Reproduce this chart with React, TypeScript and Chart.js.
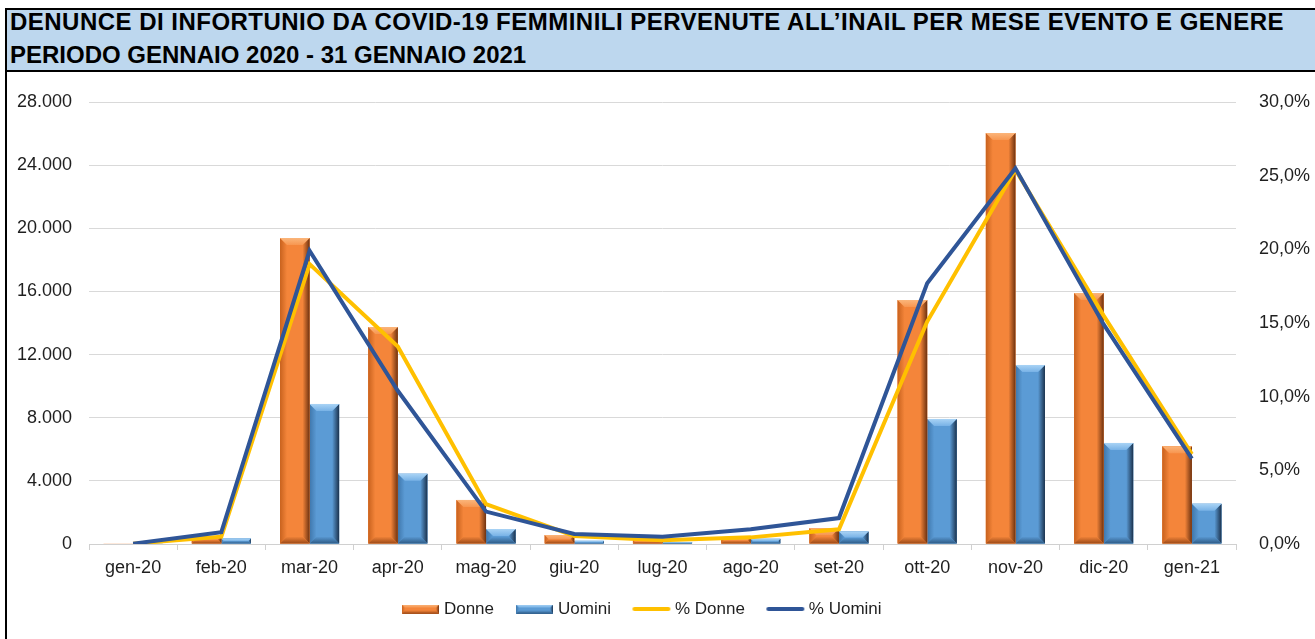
import React, { useEffect, useRef } from 'react';
import { Chart, registerables } from 'chart.js';

Chart.register(...registerables);

const titleLines = [
  'DENUNCE DI INFORTUNIO DA COVID-19 FEMMINILI PERVENUTE ALL\u2019INAIL PER MESE EVENTO E GENERE',
  'PERIODO GENNAIO 2020 - 31 GENNAIO 2021',
];
const months = ['gen-20', 'feb-20', 'mar-20', 'apr-20', 'mag-20', 'giu-20', 'lug-20', 'ago-20', 'set-20', 'ott-20', 'nov-20', 'dic-20', 'gen-21'];
const donne = [20, 500, 19380, 13740, 2790, 570, 300, 440, 1000, 15450, 26030, 15900, 6200];
const uomini = [10, 350, 8870, 4450, 950, 200, 120, 330, 790, 7920, 11340, 6400, 2550];
const pctDonne = [0.02, 0.5, 19.0, 13.4, 2.7, 0.55, 0.25, 0.45, 1.0, 15.1, 25.4, 15.5, 6.1];
const pctUomini = [0.02, 0.8, 19.9, 10.4, 2.2, 0.68, 0.5, 1.0, 1.76, 17.7, 25.5, 14.9, 5.8];
const seriesNames = ['Donne', 'Uomini', '% Donne', '% Uomini'];
const leftMax = 28000;
const leftStep = 4000;
const rightMax = 30;
const rightStep = 5;

const FONT = '"Liberation Sans", Arial, sans-serif';
const TEXT = '#1f1f1f';
const X_AXIS_H = 40;
const LEGEND_H = 55;
const LEGEND_DX = -14;
const LEGEND_DY = -9;

type Pal = { face: string; light: string; lightEnd: string; leftEdge: string; dark: string; bottom: string };
const orangePal: Pal = { face: '#F4853A', light: '#FBB57A', lightEnd: '#F79650', leftEdge: '#C8621E', dark: '#6E3210', bottom: '#9C4A18' };
const bluePal: Pal = { face: '#5B9BD5', light: '#A9D3F5', lightEnd: '#78B2E6', leftEdge: '#3F77AC', dark: '#1B324D', bottom: '#2E5B86' };

function poly(ctx: CanvasRenderingContext2D, pts: number[][], fill: string | CanvasGradient) {
  ctx.beginPath();
  ctx.moveTo(pts[0][0], pts[0][1]);
  for (let i = 1; i < pts.length; i++) ctx.lineTo(pts[i][0], pts[i][1]);
  ctx.closePath();
  ctx.fillStyle = fill;
  ctx.fill();
}

function drawBevel(ctx: CanvasRenderingContext2D, l: number, t: number, w: number, h: number, pal: Pal, bev: number) {
  if (h <= 0.5 || w <= 0) return;
  const b = Math.min(bev, w / 2, h / 2);
  const r = l + w;
  const bot = t + h;
  ctx.fillStyle = pal.face;
  ctx.fillRect(l, t, w, h);
  let g = ctx.createLinearGradient(l, 0, l + b, 0);
  g.addColorStop(0, pal.leftEdge);
  g.addColorStop(1, pal.face);
  poly(ctx, [[l, t], [l + b, t + b], [l + b, bot - b], [l, bot]], g);
  g = ctx.createLinearGradient(r - b, 0, r, 0);
  g.addColorStop(0, pal.face);
  g.addColorStop(1, pal.dark);
  poly(ctx, [[r, t], [r - b, t + b], [r - b, bot - b], [r, bot]], g);
  g = ctx.createLinearGradient(0, bot - b, 0, bot);
  g.addColorStop(0, pal.face);
  g.addColorStop(1, pal.bottom);
  poly(ctx, [[l, bot], [r, bot], [r - b, bot - b], [l + b, bot - b]], g);
  g = ctx.createLinearGradient(0, t, 0, t + b);
  g.addColorStop(0, pal.light);
  g.addColorStop(1, pal.lightEnd);
  poly(ctx, [[l, t], [r, t], [r - b, t + b], [l + b, t + b]], g);
}

function barSymbol(pal: Pal) {
  const c = document.createElement('canvas');
  c.width = 37;
  c.height = 9;
  const ctx = c.getContext('2d')!;
  drawBevel(ctx, 0, 0, 37, 9, pal, 3);
  return c;
}

function lineSymbol(color: string) {
  const c = document.createElement('canvas');
  c.width = 40;
  c.height = 6;
  const ctx = c.getContext('2d')!;
  ctx.strokeStyle = color;
  ctx.lineWidth = 4;
  ctx.lineCap = 'round';
  ctx.beginPath();
  ctx.moveTo(3, 3);
  ctx.lineTo(37, 3);
  ctx.stroke();
  return c;
}

const bevelPlugin = {
  id: 'bevelBars',
  afterDatasetDraw(chart: any, args: any) {
    const meta = args.meta;
    if (meta.type !== 'bar') return;
    const pal: Pal = args.index === 0 ? orangePal : bluePal;
    const ctx: CanvasRenderingContext2D = chart.ctx;
    const area = chart.chartArea;
    ctx.save();
    ctx.beginPath();
    ctx.rect(area.left, area.top, area.right - area.left, area.bottom - area.top);
    ctx.clip();
    meta.data.forEach((el: any) => {
      const p = el.getProps(['x', 'y', 'base', 'width'], true);
      drawBevel(ctx, p.x - p.width / 2, p.y, p.width, p.base - p.y, pal, 7);
    });
    ctx.restore();
  },
};

const legendPlacePlugin = {
  id: 'legendPlace',
  beforeLayout(chart: any) {
    const lg = chart.legend;
    if (lg && !lg.__patched) {
      const orig = lg.fit;
      lg.fit = function () {
        orig.call(this);
        this.height = LEGEND_H;
      };
      lg.__patched = true;
    }
  },
  afterLayout(chart: any) {
    const lg = chart.legend;
    if (lg) {
      lg.left += LEGEND_DX;
      lg.right += LEGEND_DX;
      lg.top += LEGEND_DY;
      lg.bottom += LEGEND_DY;
    }
  },
};

const fmtThousands = (v: number) => String(Math.round(v)).replace(/\B(?=(\d{3})+(?!\d))/g, '.');
const fmtPct = (v: number) => v.toFixed(1).replace('.', ',') + '%';

export default function App() {
  const ref = useRef<HTMLCanvasElement | null>(null);

  useEffect(() => {
    if (!ref.current) return;
    const symbols = [barSymbol(orangePal), barSymbol(bluePal), lineSymbol('#FFC000'), lineSymbol('#2F5597')];
    const chart = new Chart(ref.current, {
      type: 'bar',
      data: {
        labels: months,
        datasets: [
          { type: 'bar', label: seriesNames[0], data: donne, backgroundColor: orangePal.face, yAxisID: 'y', order: 2, barPercentage: 1, categoryPercentage: 0.67 },
          { type: 'bar', label: seriesNames[1], data: uomini, backgroundColor: bluePal.face, yAxisID: 'y', order: 3, barPercentage: 1, categoryPercentage: 0.67 },
          { type: 'line', label: seriesNames[2], data: pctDonne, borderColor: '#FFC000', backgroundColor: '#FFC000', borderWidth: 4, pointRadius: 0, yAxisID: 'y1', order: 1, tension: 0 },
          { type: 'line', label: seriesNames[3], data: pctUomini, borderColor: '#2F5597', backgroundColor: '#2F5597', borderWidth: 4, pointRadius: 0, yAxisID: 'y1', order: 0, tension: 0 },
        ] as any,
      },
      options: {
        animation: false,
        responsive: false,
        maintainAspectRatio: false,
        layout: { padding: { top: 102, bottom: 0, left: 0, right: 0 } },
        plugins: {
          title: { display: false },
          tooltip: { enabled: false },
          legend: {
            position: 'bottom',
            labels: {
              usePointStyle: true,
              pointStyleWidth: 30,
              boxHeight: 10,
              padding: 25.5,
              color: TEXT,
              font: { family: FONT, size: 17 },
              sort: (a: any, b: any) => a.datasetIndex - b.datasetIndex,
              generateLabels: (chart: any) => {
                const items = Chart.defaults.plugins.legend.labels.generateLabels(chart);
                return items.map((it: any) => ({ ...it, pointStyle: symbols[it.datasetIndex] }));
              },
            },
          },
        },
        scales: {
          x: {
            offset: true,
            grid: { display: true, drawOnChartArea: false, drawTicks: true, tickLength: 6, color: '#d0d0d0', offset: true },
            border: { display: true, color: '#d0d0d0' },
            ticks: { color: TEXT, font: { family: FONT, size: 18 }, padding: 7, maxRotation: 0 },
            afterFit: (s: any) => { s.height = X_AXIS_H; },
          },
          y: {
            position: 'left',
            min: 0,
            max: leftMax,
            grid: { color: '#d9d9d9', drawTicks: false },
            border: { display: false },
            ticks: { stepSize: leftStep, color: TEXT, font: { family: FONT, size: 18 }, padding: 17, callback: (v: any) => fmtThousands(Number(v)) },
            afterFit: (s: any) => { s.width = 89; },
          },
          y1: {
            position: 'right',
            min: 0,
            max: rightMax,
            grid: { display: false, drawTicks: false },
            border: { display: false },
            ticks: { stepSize: rightStep, color: TEXT, font: { family: FONT, size: 18 }, padding: 23, callback: (v: any) => fmtPct(Number(v)) },
            afterFit: (s: any) => { s.width = 79; },
          },
        },
      } as any,
      plugins: [bevelPlugin, legendPlacePlugin],
    });
    return () => chart.destroy();
  }, []);

  const lineStyle = (top: number, spacing: number): React.CSSProperties => ({
    position: 'absolute',
    left: 3,
    top,
    fontFamily: FONT,
    fontWeight: 'bold',
    fontSize: 24,
    letterSpacing: spacing,
    lineHeight: '28px',
    color: '#000',
    whiteSpace: 'nowrap',
  });

  return (
    <div style={{ position: 'fixed', left: 0, top: 0, width: 1315, height: 639, overflow: 'hidden', background: '#fff' }}>
      <canvas ref={ref} width={1315} height={639} style={{ position: 'absolute', left: 0, top: 0, width: 1315, height: 639 }} />
      <div style={{ position: 'absolute', left: 5, top: 8, width: 2, height: 640, background: '#000' }} />
      <div
        style={{
          position: 'absolute',
          left: 5,
          top: 8,
          width: 1320,
          height: 64,
          background: '#BDD7EE',
          borderTop: '2px solid #000',
          borderLeft: '2px solid #000',
          borderBottom: '2px solid #000',
          boxSizing: 'border-box',
        }}
      >
        <div style={lineStyle(-2, 0.48)}>{titleLines[0]}</div>
        <div style={lineStyle(31, 0)}>{titleLines[1]}</div>
      </div>
    </div>
  );
}
